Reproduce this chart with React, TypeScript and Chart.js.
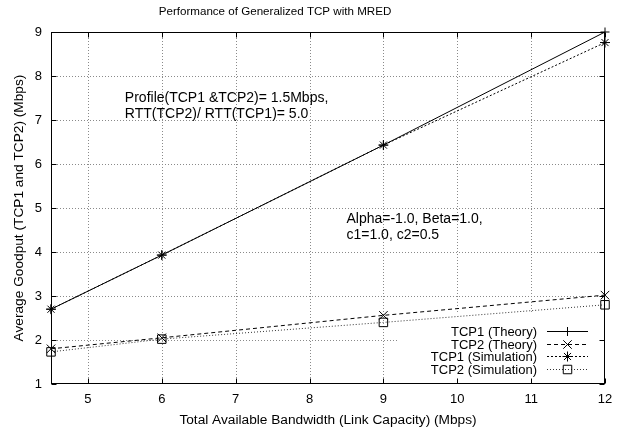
import { useEffect, useRef } from "react";
import { Chart, registerables } from "chart.js";
Chart.register(...registerables);

const bandwidth = [4.5, 6, 9, 12];
const tcp1Theory = [2.7, 3.93, 6.43, 9.0];
const tcp2Theory = [1.8, 2.05, 2.56, 3.02];
const tcp1Sim = [2.7, 3.93, 6.43, 8.76];
const tcp2Sim = [1.73, 2.02, 2.4, 2.8];
const xTicks = [5, 6, 7, 8, 9, 10, 11, 12];
const yTicks = [1, 2, 3, 4, 5, 6, 7, 8, 9];
const seriesNames = ["TCP1 (Theory)", "TCP2 (Theory)", "TCP1 (Simulation)", "TCP2 (Simulation)"];
const titleText = "Performance of Generalized TCP with MRED";
const xTitle = "Total Available Bandwidth (Link Capacity) (Mbps)";
const yTitle = "Average Goodput (TCP1 and TCP2) (Mbps)";
const note1 = ["Profile(TCP1 &TCP2)= 1.5Mbps,", "RTT(TCP2)/ RTT(TCP1)= 5.0"];
const note2 = ["Alpha=-1.0, Beta=1.0,", "c1=1.0, c2=0.5"];

const FONT = '"Liberation Sans", Arial, sans-serif';

type Style = { dash: number[]; color: string; point: string; radius: number };
const styles: Style[] = [
  { dash: [], color: "#000", point: "cross", radius: 4.5 },
  { dash: [4, 3], color: "#000", point: "crossRot", radius: 6 },
  { dash: [2, 2], color: "#000", point: "star", radius: 5 },
  { dash: [1, 2], color: "#333", point: "rect", radius: 6 },
];

function drawText(ctx: CanvasRenderingContext2D, s: string, x: number, y: number, size: number, align: CanvasTextAlign, rot = 0) {
  ctx.save();
  ctx.font = `${size}px ${FONT}`;
  ctx.fillStyle = "#000";
  ctx.translate(x, y);
  if (rot) ctx.rotate(rot);
  ctx.textAlign = align;
  ctx.textBaseline = "alphabetic";
  ctx.fillText(s, 0, 0);
  ctx.restore();
}

function drawMarker(ctx: CanvasRenderingContext2D, style: string, x: number, y: number, r: number) {
  ctx.beginPath();
  const d = r * Math.SQRT1_2;
  if (style === "cross" || style === "star") {
    ctx.moveTo(x - r, y); ctx.lineTo(x + r, y);
    ctx.moveTo(x, y - r); ctx.lineTo(x, y + r);
  }
  if (style === "crossRot" || style === "star") {
    ctx.moveTo(x - d, y - d); ctx.lineTo(x + d, y + d);
    ctx.moveTo(x - d, y + d); ctx.lineTo(x + d, y - d);
  }
  if (style === "rect") {
    ctx.rect(x - d, y - d, 2 * d, 2 * d);
  }
  ctx.stroke();
}

const gnuplotPlugin = {
  id: "gnuplot",
  beforeDatasetsDraw(chart: any) {
    const ctx: CanvasRenderingContext2D = chart.ctx;
    const { left, right, top, bottom } = chart.chartArea;
    const xs = chart.scales.x, ys = chart.scales.y;
    ctx.save();
    ctx.strokeStyle = "#8a8a8a";
    ctx.lineWidth = 1;
    ctx.setLineDash([1, 2]);
    ctx.beginPath();
    for (const v of xTicks) {
      if (v === xs.min || v === xs.max) continue;
      const px = Math.round(xs.getPixelForValue(v)) + 0.5;
      ctx.moveTo(px, top); ctx.lineTo(px, bottom);
    }
    for (const v of yTicks) {
      if (v === ys.min || v === ys.max) continue;
      const py = Math.round(ys.getPixelForValue(v)) + 0.5;
      ctx.moveTo(left, py); ctx.lineTo(right, py);
    }
    ctx.stroke();
    ctx.setLineDash([]);
    // key box hides the grid
    ctx.fillStyle = "#fff";
    ctx.fillRect(right - 207, bottom - 72, 206, 71);
    ctx.restore();
  },
  afterDatasetsDraw(chart: any) {
    const ctx: CanvasRenderingContext2D = chart.ctx;
    const { left, right, top, bottom } = chart.chartArea;
    const xs = chart.scales.x, ys = chart.scales.y;
    ctx.save();
    ctx.strokeStyle = "#000";
    ctx.lineWidth = 1;
    ctx.setLineDash([]);
    const L = Math.round(left) + 0.5, R = Math.round(right) - 0.5, T = Math.round(top) + 0.5, B = Math.round(bottom) - 0.5;
    ctx.strokeRect(L, T, R - L, B - T);
    const tl = 5;
    ctx.beginPath();
    for (const v of xTicks) {
      const px = Math.round(xs.getPixelForValue(v)) + 0.5;
      ctx.moveTo(px, B); ctx.lineTo(px, B - tl);
      ctx.moveTo(px, T); ctx.lineTo(px, T + tl);
    }
    for (const v of yTicks) {
      const py = Math.round(ys.getPixelForValue(v)) + 0.5;
      ctx.moveTo(L, py); ctx.lineTo(L + tl, py);
      ctx.moveTo(R, py); ctx.lineTo(R - tl, py);
    }
    ctx.stroke();

    // legend (key)
    const textRight = right - 68;
    const lineStart = right - 58, lineEnd = right - 17;
    const rowY0 = bottom - 53;
    const rowH = 12.7;
    seriesNames.forEach((name, i) => {
      const cy = Math.round(rowY0 + i * rowH) + 0.5;
      drawText(ctx, name, textRight, cy + 4.5, 13, "right");
      const st = styles[i];
      ctx.strokeStyle = st.color;
      ctx.lineWidth = 1;
      ctx.setLineDash(st.dash);
      ctx.beginPath();
      ctx.moveTo(lineStart, cy);
      ctx.lineTo(lineEnd, cy);
      ctx.stroke();
      ctx.setLineDash([]);
      ctx.strokeStyle = "#000";
      drawMarker(ctx, st.point, (lineStart + lineEnd) / 2, cy, st.radius);
    });

    // annotations
    const n1x = xs.getPixelForValue(5.5), n1y = ys.getPixelForValue(7.41);
    drawText(ctx, note1[0], n1x, n1y, 14, "left");
    drawText(ctx, note1[1], n1x, n1y + 16, 14, "left");
    const n2x = xs.getPixelForValue(8.5), n2y = ys.getPixelForValue(4.66);
    drawText(ctx, note2[0], n2x, n2y, 14, "left");
    drawText(ctx, note2[1], n2x, n2y + 16.5, 14, "left");

    // titles
    drawText(ctx, titleText, 275, 15, 11.6, "center");
    drawText(ctx, xTitle, (left + right) / 2, 424, 13.7, "center");
    drawText(ctx, yTitle, 23, (top + bottom) / 2, 13.7, "center", -Math.PI / 2);
    ctx.restore();
  },
};

export default function App() {
  const ref = useRef<HTMLCanvasElement | null>(null);
  useEffect(() => {
    document.body.style.margin = "0";
    const canvas = ref.current!;
    const series = [tcp1Theory, tcp2Theory, tcp1Sim, tcp2Sim];
    const chart = new Chart(canvas, {
      type: "line",
      data: {
        datasets: series.map((vals, i) => ({
          label: seriesNames[i],
          data: bandwidth.map((x, j) => ({ x, y: vals[j] })),
          borderColor: styles[i].color,
          borderWidth: 1,
          borderDash: styles[i].dash,
          pointStyle: styles[i].point as any,
          pointRadius: styles[i].radius,
          pointBorderColor: "#000",
          pointBackgroundColor: "rgba(0,0,0,0)",
          pointBorderWidth: 1,
          fill: false,
          tension: 0,
          clip: false as any,
        })),
      },
      options: {
        animation: false,
        responsive: false,
        maintainAspectRatio: false,
        devicePixelRatio: 1,
        layout: { padding: { left: 0, right: 18, top: 32, bottom: 0 } },
        plugins: { legend: { display: false }, title: { display: false }, tooltip: { enabled: false } },
        scales: {
          x: {
            type: "linear",
            min: 4.5,
            max: 12,
            afterBuildTicks: (s: any) => { s.ticks = xTicks.map((v) => ({ value: v })); },
            afterFit: (s: any) => { s.height = 45; },
            grid: { display: false, drawTicks: false },
            border: { display: false },
            ticks: { color: "#000", padding: 8, font: { family: FONT, size: 13 }, maxRotation: 0, autoSkip: false },
          },
          y: {
            type: "linear",
            min: 1,
            max: 9,
            afterBuildTicks: (s: any) => { s.ticks = yTicks.map((v) => ({ value: v })); },
            afterFit: (s: any) => { s.width = 51; },
            grid: { display: false, drawTicks: false },
            border: { display: false },
            ticks: { color: "#000", padding: 9, font: { family: FONT, size: 13 } },
          },
        },
      },
      plugins: [gnuplotPlugin],
    });
    return () => chart.destroy();
  }, []);
  return <canvas ref={ref} width={623} height={429} style={{ display: "block", width: 623, height: 429 }} />;
}
